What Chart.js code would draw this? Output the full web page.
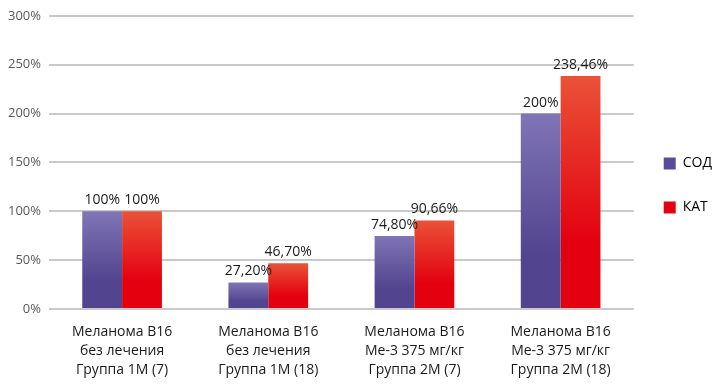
<!DOCTYPE html>
<html>
<head>
<meta charset="utf-8">
<script src="https://cdn.jsdelivr.net/npm/chart.js@4.4.1/dist/chart.umd.min.js"></script>
<style>
  html, body { margin: 0; padding: 0; background: #fff; }
  #wrap { width: 718px; height: 385px; }
</style>
</head>
<body>
<div id="wrap"><canvas id="chart" width="718" height="385"></canvas></div>
<script>
// Данные графика
const categories = [
  ['Меланома В16', 'без лечения', 'Группа 1М (7)'],
  ['Меланома В16', 'без лечения', 'Группа 1М (18)'],
  ['Меланома В16', 'Ме-3 375 мг/кг', 'Группа 2М (7)'],
  ['Меланома В16', 'Ме-3 375 мг/кг', 'Группа 2М (18)']
];
const sodValues = [100, 27.2, 74.8, 200];
const katValues = [100, 46.7, 90.66, 238.46];
const seriesNames = ['СОД', 'КАТ'];
const yTicks = [0, 50, 100, 150, 200, 250, 300];

const FONT = '"Open Sans", "Noto Sans", sans-serif';

// градиент от верха столбика к его основанию
function barGradient(top, bottom) {
  return ctx => {
    const chart = ctx.chart;
    if (!chart.chartArea || ctx.type !== 'data') return bottom;
    const y = chart.scales.y;
    const yTop = y.getPixelForValue(ctx.raw);
    const yBase = y.getPixelForValue(0);
    if (!isFinite(yTop) || yBase - yTop < 1) return bottom;
    const g = chart.ctx.createLinearGradient(0, yTop, 0, yBase);
    g.addColorStop(0, top);
    g.addColorStop(0.72, bottom);
    g.addColorStop(1, bottom);
    return g;
  };
}

function fmt(v) {
  return Number.isInteger(v) ? v + '%' : v.toFixed(2).replace('.', ',') + '%';
}

// подписи значений над столбиками
const valueLabels = {
  id: 'valueLabels',
  afterDatasetsDraw(chart) {
    const c = chart.ctx;
    c.save();
    c.font = '14px ' + FONT;
    c.fillStyle = '#1a1a1a';
    c.textAlign = 'center';
    c.textBaseline = 'bottom';
    chart.data.datasets.forEach((ds, i) => {
      chart.getDatasetMeta(i).data.forEach((bar, j) => {
        c.fillText(fmt(ds.data[j]), bar.x, bar.y - 4);
      });
    });
    c.restore();
  }
};

// легенда в оригинале чуть выше центра
const legendShift = {
  id: 'legendShift',
  afterLayout(chart) {
    if (!chart.legend) return;
    chart.legend.top -= 11;
    chart.legend.bottom -= 11;
  }
};

const legendColors = ['#5a4b9a', '#e3000f'];

new Chart(document.getElementById('chart'), {
  type: 'bar',
  data: {
    labels: categories,
    datasets: [
      {
        label: seriesNames[0],
        data: sodValues,
        backgroundColor: barGradient('#8075b6', '#52448f'),
        categoryPercentage: 0.545,
        barPercentage: 1
      },
      {
        label: seriesNames[1],
        data: katValues,
        backgroundColor: barGradient('#ea5238', '#e3000f'),
        categoryPercentage: 0.545,
        barPercentage: 1
      }
    ]
  },
  options: {
    responsive: false,
    animation: false,
    layout: { padding: { top: 8, right: -4, left: 0, bottom: 0 } },
    plugins: {
      tooltip: { enabled: false },
      legend: {
        position: 'right',
        align: 'center',
        labels: {
          boxWidth: 12,
          boxHeight: 12,
          padding: 30,
          color: '#1a1a1a',
          font: { family: FONT, size: 14 },
          generateLabels: chart => chart.data.datasets.map((ds, i) => ({
            text: ds.label,
            fillStyle: legendColors[i],
            strokeStyle: legendColors[i],
            lineWidth: 0,
            datasetIndex: i
          }))
        }
      }
    },
    scales: {
      x: {
        grid: { display: false },
        border: { display: false },
        ticks: {
          color: '#1a1a1a',
          padding: 6,
          maxRotation: 0,
          font: { family: FONT, size: 14, lineHeight: 1.35 }
        },
        afterFit: s => { s.height = 76; }
      },
      y: {
        min: 0,
        max: 300,
        afterBuildTicks: s => { s.ticks = yTicks.map(v => ({ value: v })); },
        grid: { color: '#c9c9c9', lineWidth: 2, drawTicks: false },
        border: { display: false },
        ticks: {
          color: '#595959',
          padding: 8,
          font: { family: FONT, size: 13 },
          callback: v => v + '%'
        },
        afterFit: s => { s.width = 49; }
      }
    }
  },
  plugins: [valueLabels, legendShift]
});
</script>
</body>
</html>
